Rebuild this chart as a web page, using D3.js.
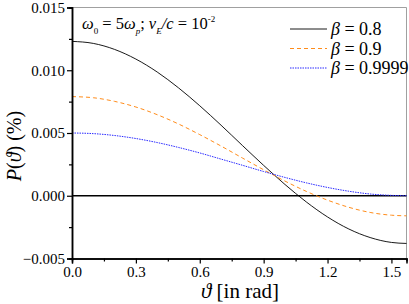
<!DOCTYPE html>
<html>
<head>
<meta charset="utf-8">
<script src="https://cdn.jsdelivr.net/npm/d3@7"></script>
<style>
  body { margin: 0; background: #fff; }
  svg { display: block; }
</style>
</head>
<body>
<svg id="chart" width="409" height="304"></svg>
<script>
// angle samples (rad)
const theta = [0, 0.1, 0.2, 0.3, 0.4, 0.5, 0.6, 0.7, 0.8, 0.9, 1.0, 1.1, 1.2, 1.3, 1.4, 1.5, 1.5708]
const beta08 = [0.0123, 0.01214, 0.01166, 0.01089, 0.00986, 0.0086, 0.00717, 0.00562, 0.00401, 0.00242,
  0.0009, -0.00049, -0.00169, -0.00265, -0.00333, -0.00372, -0.0038]
const beta09 = [0.0079, 0.00781, 0.00752, 0.00707, 0.00646, 0.00572, 0.00487, 0.00396, 0.00301, 0.00207,
  0.00117, 0.00035, -0.00035, -0.00092, -0.00133, -0.00155, -0.0016]
const beta09999 = [0.005, 0.00495, 0.0048, 0.00456, 0.00424, 0.00385, 0.00341, 0.00292, 0.00243, 0.00193,
  0.00146, 0.00103, 0.00066, 0.00036, 0.00014, 0.00003, 0.0]
const xTicks = [0.0, 0.3, 0.6, 0.9, 1.2, 1.5]
const yTicks = [-0.005, 0.0, 0.005, 0.01, 0.015]
const legendLabels = ['0.8', '0.9', '0.9999']

const FONT = '"Liberation Serif"'
const svg = d3.select('#chart')
const mLeft = 72, mRight = 406.5, mTop = 7.5, mBottom = 258.5

let x = d3.scaleLinear().domain([0, Math.PI / 2]).range([mLeft, mRight])
let y = d3.scaleLinear().domain([-0.005, 0.015]).range([mBottom, mTop])

// frame top/right
svg.append('path')
  .attr('d', `M${mLeft},${mTop}H${mRight}V${mBottom}`)
  .attr('fill', 'none').attr('stroke', '#a0a0a0').attr('stroke-width', 1)

// zero line
svg.append('line')
  .attr('x1', mLeft).attr('x2', mRight).attr('y1', y(0)).attr('y2', y(0))
  .attr('stroke', '#000').attr('stroke-width', 1.5)

let series = [
  { vals: beta08, color: '#000', dash: null, width: 0.9 },
  { vals: beta09, color: '#ff8c1a', dash: '4,3', width: 1 },
  { vals: beta09999, color: '#2a2aff', dash: '1.5,1', width: 1 },
]

let line = d3.line()
  .curve(d3.curveMonotoneX)
  .x((d, i) => x(theta[i]))
  .y(d => y(d))

series.forEach(s => {
  svg.append('path')
    .attr('d', line(s.vals))
    .attr('fill', 'none')
    .attr('stroke', s.color)
    .attr('stroke-width', s.width)
    .attr('stroke-dasharray', s.dash)
})

// axes
let xAxis = d3.axisBottom(x).tickValues(xTicks).tickFormat(d3.format('.1f')).tickSize(5).tickPadding(3)
let xMinor = d3.axisBottom(x).tickValues(d3.range(0.15, 1.56, 0.3)).tickFormat('').tickSize(3)
let yAxis = d3.axisLeft(y).tickValues(yTicks).tickFormat(d3.format('.3f')).tickSize(5).tickPadding(2)
let yMinor = d3.axisLeft(y).tickValues([-0.0025, 0.0025, 0.0075, 0.0125]).tickFormat('').tickSize(3)

function styleAxis(g) {
  g.attr('font-family', FONT).attr('font-size', 15)
  g.select('.domain').attr('stroke-width', 1.5)
  g.selectAll('.tick line').attr('stroke-width', 1.2)
  g.selectAll('text').attr('fill', '#000')
    .style('font-size', '15px').style('font-family', FONT)
}

svg.append('g').attr('transform', `translate(0,${mBottom})`).call(xMinor).call(styleAxis)
svg.append('g').attr('transform', `translate(0,${mBottom})`).call(xAxis).call(styleAxis)
svg.append('g').attr('transform', `translate(${mLeft},0)`).call(yMinor).call(styleAxis)
svg.append('g').attr('transform', `translate(${mLeft},0)`).call(yAxis).call(styleAxis)

// axis titles
let xt = svg.append('text')
  .attr('x', 240).attr('y', 298).attr('text-anchor', 'middle')
  .style('font-size', '21px').style('font-family', FONT)
xt.append('tspan').attr('font-style', 'italic').text('ϑ')
xt.append('tspan').text(' [in rad]')

let yt = svg.append('text')
  .attr('transform', 'translate(21,146) rotate(-90)')
  .attr('text-anchor', 'middle')
  .style('font-size', '20px').style('font-family', FONT)
yt.append('tspan').attr('font-style', 'italic').text('P')
yt.append('tspan').text('(')
yt.append('tspan').attr('font-style', 'italic').text('ϑ')
yt.append('tspan').text(') (%)')

// annotation
let ann = svg.append('text').attr('x', 82).attr('y', 29)
  .style('font-size', '16.5px').style('font-family', FONT)
ann.append('tspan').attr('font-style', 'italic').text('ω')
ann.append('tspan').style('font-size', '9px').attr('dy', 5).text('0')
ann.append('tspan').attr('dy', -5).text(' = 5')
ann.append('tspan').attr('font-style', 'italic').text('ω')
ann.append('tspan').style('font-size', '9px').attr('font-style', 'italic').attr('dy', 5).text('p')
ann.append('tspan').attr('dy', -5).text('; ')
ann.append('tspan').attr('font-style', 'italic').text('v')
ann.append('tspan').style('font-size', '9px').attr('font-style', 'italic').attr('dy', 5).text('E')
ann.append('tspan').attr('dy', -5).attr('font-style', 'italic').text('/c')
ann.append('tspan').text(' = 10')
ann.append('tspan').style('font-size', '9px').attr('dy', -7).text('-2')

// legend
let lg = svg.append('g').selectAll('g').data(series).enter().append('g')
  .attr('transform', (d, i) => `translate(290,${29 + i * 19.5})`)
lg.append('line')
  .attr('x1', 0).attr('x2', 37).attr('y1', 0).attr('y2', 0)
  .attr('stroke', d => d.color).attr('stroke-width', d => d.width)
  .attr('stroke-dasharray', d => d.dash)
let lt = lg.append('text').attr('x', 41).attr('y', 6)
  .style('font-size', '18px').style('font-family', FONT)
lt.append('tspan').attr('font-style', 'italic').text('β')
lt.append('tspan').text((d, i) => ' = ' + legendLabels[i])
</script>
</body>
</html>
